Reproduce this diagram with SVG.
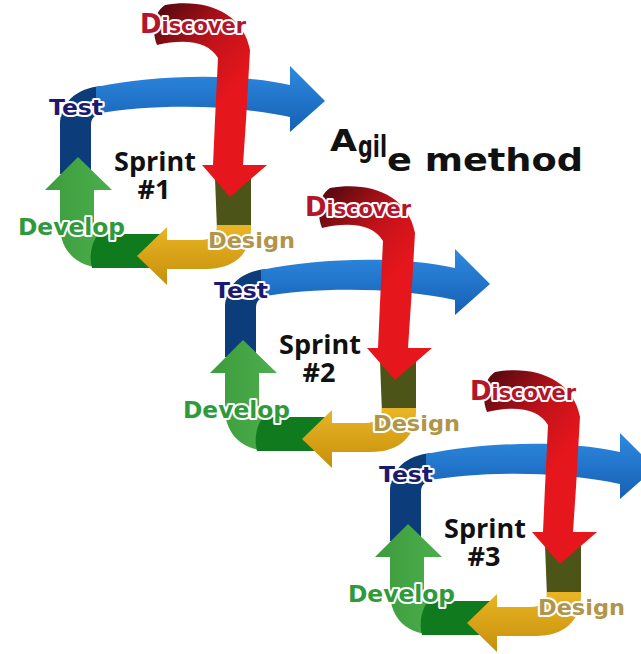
<svg xmlns="http://www.w3.org/2000/svg" width="641" height="654" viewBox="0 0 641 654">
  <style>
    .lbl { font-family: "DejaVu Sans", "Liberation Sans", sans-serif; font-weight: bold; stroke: #ffffff; stroke-width: 4; stroke-linejoin: round; paint-order: stroke; }
    .discover { fill: #b3152a; font-size: 21px; }
    .test { fill: #1c1a6e; font-size: 22px; }
    .develop { fill: #2f9a3c; font-size: 23px; }
    .design { fill: #b0954a; font-size: 22px; }
    .sprint { font-family: "Open Sans", "Liberation Sans", sans-serif; font-weight: bold; font-size: 27px; fill: #111111; text-anchor: middle; }
    .title { font-family: "DejaVu Sans", "Liberation Sans", sans-serif; font-weight: bold; fill: #111111; }
  </style>
  <defs>
    <linearGradient id="gBlue" gradientUnits="userSpaceOnUse" x1="0" y1="72" x2="0" y2="132">
      <stop offset="0" stop-color="#2c86dc"/>
      <stop offset="1" stop-color="#1560b4"/>
    </linearGradient>
    <linearGradient id="gRed" gradientUnits="userSpaceOnUse" x1="165" y1="10" x2="240" y2="80">
      <stop offset="0" stop-color="#5e0a10"/>
      <stop offset="0.55" stop-color="#c3121a"/>
      <stop offset="1" stop-color="#e5161c"/>
    </linearGradient>
    <linearGradient id="gYellow" gradientUnits="userSpaceOnUse" x1="0" y1="228" x2="0" y2="285">
      <stop offset="0" stop-color="#e8b424"/>
      <stop offset="1" stop-color="#c68f0c"/>
    </linearGradient>
    <linearGradient id="gGreen" gradientUnits="userSpaceOnUse" x1="45" y1="0" x2="112" y2="0">
      <stop offset="0" stop-color="#3d9c3d"/>
      <stop offset="1" stop-color="#4cae4c"/>
    </linearGradient>

    <!-- one sprint cycle: Test -> Discover -> Design -> Develop -> Test -->
    <g id="loop">
      <!-- Test: dark blue left column turning into the top band -->
      <path fill="#0d3c7a" d="M 102,86 C 76,88 60,103 60,125 L 60,174 L 91,174 L 91,125 C 91,118 95,114 102,114 Z"/>
      <!-- Test: long blue arrow across the top -->
      <path fill="url(#gBlue)" d="M 96,87 C 150,76 230,72 290,85 L 290,66 L 325,101 L 290,132 L 290,117 C 230,104 150,104 96,114 Z"/>
      <!-- Develop: light green corner and upward arrow -->
      <path fill="url(#gGreen)" d="M 106,268 C 78,268 60,252 60,225 L 60,190 L 45,190 L 78,157 L 112,190 L 94,190 L 94,222 C 94,230 98,234 106,234 Z"/>
      <!-- Develop: dark green bottom band -->
      <path fill="#0f7a1e" d="M 98,234 L 162,234 L 162,268 L 92,268 C 89,256 91,244 98,234 Z"/>
      <!-- Design: olive right column -->
      <path fill="#4c5418" d="M 215,178 L 251,178 L 251,230 L 217,230 Z"/>
      <!-- Design: yellow corner and left-pointing arrow -->
      <path fill="url(#gYellow)" d="M 251,225 C 252,254 234,270 203,269 L 167,269 L 167,285 L 137,256 L 167,227 L 167,240 L 200,240 C 212,240 217,234 217,225 Z"/>
      <!-- Discover: curled red arrow coming down the right side -->
      <path fill="url(#gRed)" d="M 165,5 C 205,-2 243,12 250,50 L 246,120 L 243,165 L 267,165 L 230,197 L 202,165 L 213,165 L 215,120 L 218,58 C 209,42 186,38 157,45 C 151,30 154,12 165,5 Z"/>
    </g>
  </defs>

  <g id="title">
    <text class="title" x="330" y="151" font-size="31" textLength="27" lengthAdjust="spacingAndGlyphs">A</text>
    <text class="title" x="358" y="157" font-size="31" textLength="29" lengthAdjust="spacingAndGlyphs">gil</text>
    <text class="title" x="387" y="171" font-size="32" textLength="196" lengthAdjust="spacingAndGlyphs">e method</text>
  </g>

  <g id="sprint1">
    <use href="#loop"/>
    <text class="lbl discover" x="140" y="33" textLength="106" lengthAdjust="spacingAndGlyphs"><tspan font-size="26">D</tspan>iscover</text>
    <text class="lbl test" x="49" y="115" textLength="54" lengthAdjust="spacingAndGlyphs">Test</text>
    <text class="lbl develop" x="18" y="235" textLength="107" lengthAdjust="spacingAndGlyphs">Develop</text>
    <text class="lbl design" x="208" y="248" textLength="87" lengthAdjust="spacingAndGlyphs">Design</text>
    <text class="sprint" x="155" y="171">Sprint</text>
    <text class="sprint" x="154" y="199">#1</text>
  </g>

  <g id="sprint2" transform="translate(165,183)">
    <use href="#loop"/>
    <text class="lbl discover" x="140" y="33" textLength="106" lengthAdjust="spacingAndGlyphs"><tspan font-size="26">D</tspan>iscover</text>
    <text class="lbl test" x="49" y="115" textLength="54" lengthAdjust="spacingAndGlyphs">Test</text>
    <text class="lbl develop" x="18" y="235" textLength="107" lengthAdjust="spacingAndGlyphs">Develop</text>
    <text class="lbl design" x="208" y="248" textLength="87" lengthAdjust="spacingAndGlyphs">Design</text>
    <text class="sprint" x="155" y="171">Sprint</text>
    <text class="sprint" x="154" y="199">#2</text>
  </g>

  <g id="sprint3" transform="translate(330,367)">
    <use href="#loop"/>
    <text class="lbl discover" x="140" y="33" textLength="106" lengthAdjust="spacingAndGlyphs"><tspan font-size="26">D</tspan>iscover</text>
    <text class="lbl test" x="49" y="115" textLength="54" lengthAdjust="spacingAndGlyphs">Test</text>
    <text class="lbl develop" x="18" y="235" textLength="107" lengthAdjust="spacingAndGlyphs">Develop</text>
    <text class="lbl design" x="208" y="248" textLength="87" lengthAdjust="spacingAndGlyphs">Design</text>
    <text class="sprint" x="155" y="171">Sprint</text>
    <text class="sprint" x="154" y="199">#3</text>
  </g>
</svg>
